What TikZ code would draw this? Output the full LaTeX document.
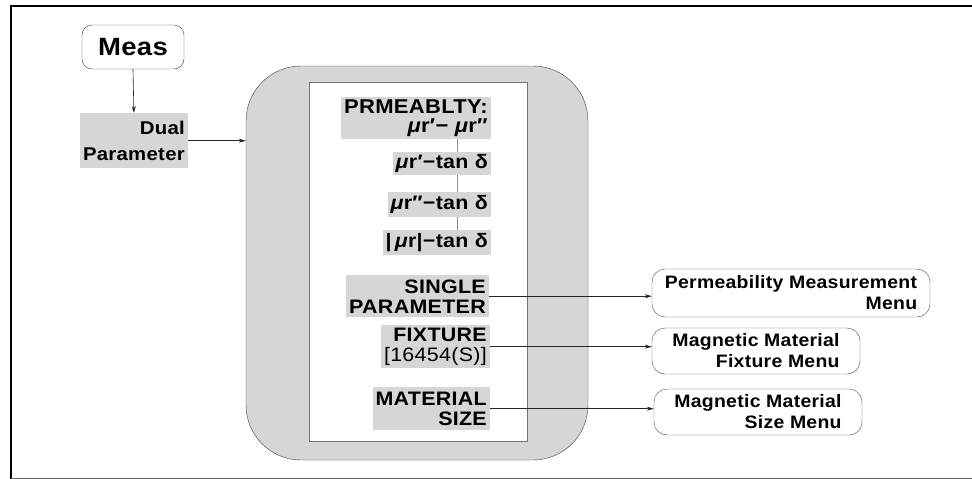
\documentclass[tikz,border=0pt]{standalone}
\usepackage{fontspec}
\setmainfont{Liberation Sans}[FakeStretch=1.1, LetterSpace=1.5]
\newfontfamily\menufont{Liberation Sans}[FakeStretch=1.08, LetterSpace=1.5]
\usetikzlibrary{arrows.meta}
\definecolor{shade}{gray}{0.84}
\begin{document}
\begin{tikzpicture}[x=1pt,y=-1pt,
  lbl/.style={fill=shade, inner xsep=3pt, inner ysep=0pt, align=right, anchor=north east,
    font=\bfseries\fontsize{19.5}{20}\selectfont},
  menu/.style={draw=black!70, rounded corners=13pt, align=right, inner sep=0pt,
    font=\menufont\bfseries\fontsize{18}{21}\selectfont},
  arr/.style={-{Stealth[length=7pt,width=4pt]}, draw=black!85, line width=0.6pt},
  link/.style={draw=black!45, line width=0.8pt}]
\useasboundingbox (0,0) rectangle (972,479);
% frame
\draw[line width=2pt] (11,479) -- (11,6) -- (972,6);
\draw[black!60, line width=1pt] (11,478) -- (972,478);
% panel
\node[draw=black!75, fill=shade, rounded corners=55pt, minimum width=342pt, minimum height=394pt, inner sep=0pt] (panel) at (417,263) {};
\node[draw=black!55, fill=white, minimum width=218pt, minimum height=359pt, inner sep=0pt] (inner) at (418,261.5) {};
% Meas
\node[draw=black!75, rounded corners=10pt, minimum width=102pt, minimum height=44pt,
  font=\bfseries\fontsize{25}{25}\selectfont] (meas) at (133,47) {Meas};
\node[lbl, minimum height=55pt, font=\bfseries\fontsize{18.5}{26}\selectfont] (dual) at (188,113) {Dual\\Parameter};
% labels in panel
\node[lbl, minimum height=42pt, font=\bfseries\fontsize{20}{19}\selectfont] (prm) at (491,97) {PRMEABLTY:\\\textit{μ}r′− \textit{μ}r″};
\node[lbl, minimum height=23pt] (t1) at (491,152) {\textit{μ}r′−tan δ};
\node[lbl, minimum height=25pt] (t2) at (491,192) {\textit{μ}r″−tan δ};
\node[lbl, minimum height=25pt] (t3) at (491,230) {|\,\textit{μ}r|−tan δ};
\node[lbl, minimum height=42pt] (single) at (489,275) {SINGLE\\PARAMETER};
\node[lbl, minimum height=43pt] (fixture) at (490,325) {FIXTURE\\{\mdseries[16454(S)]}};
\node[lbl, minimum height=43pt] (material) at (490,387) {MATERIAL\\SIZE};
\coordinate (vx) at (457,0);
\draw[link] (prm.south -| vx) -- (t1.north -| vx);
\draw[link] (t1.south -| vx) -- (t2.north -| vx);
\draw[link] (t2.south -| vx) -- (t3.north -| vx);
% menus
\node[menu, minimum width=278pt, minimum height=48pt] (perm) at (791,293) {Permeability Measurement\\Menu};
\node[menu, minimum width=208pt, minimum height=46pt] (fix) at (756,351) {Magnetic Material\\Fixture Menu};
\node[menu, minimum width=208pt, minimum height=46pt] (size) at (758,412) {Magnetic Material\\Size Menu};
% arrows
\draw[arr] (meas.south) -- (dual.north);
\draw[arr] (dual.east) -- (dual.east -| panel.west);
\draw[arr] (single.east) -- (single.east -| perm.west);
\draw[arr] (fixture.east) -- (fixture.east -| fix.west);
\draw[arr] (material.east) -- (material.east -| size.west);
\end{tikzpicture}
\end{document}
